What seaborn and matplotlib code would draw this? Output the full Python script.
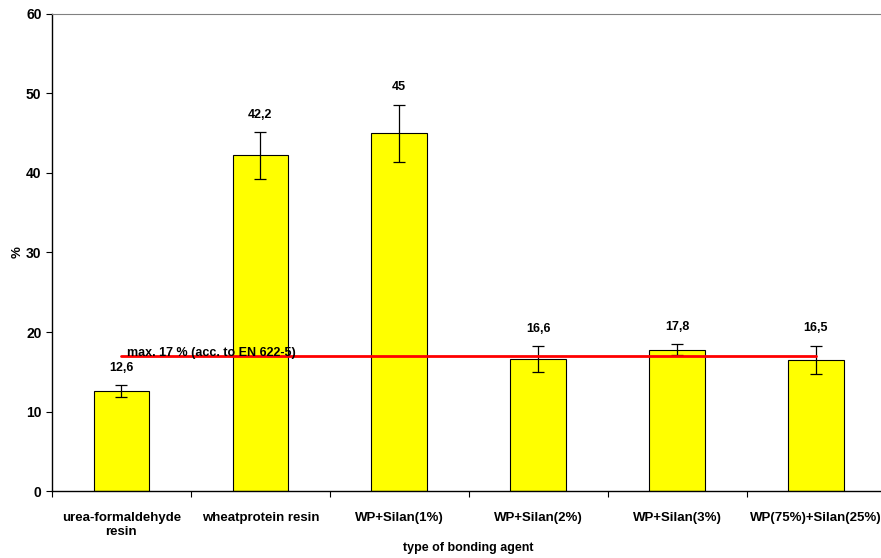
import pandas as pd
import seaborn as sns
import matplotlib.pyplot as plt
from matplotlib.ticker import FixedLocator

categories = ['urea-formaldehyde\nresin', 'wheatprotein resin', 'WP+Silan(1%)',
              'WP+Silan(2%)', 'WP+Silan(3%)', 'WP(75%)+Silan(25%)']
values = [12.6, 42.2, 45.0, 16.6, 17.8, 16.5]
errors = [0.75, 2.9, 3.6, 1.6, 0.65, 1.8]
value_labels = ['12,6', '42,2', '45', '16,6', '17,8', '16,5']
limit_value = 17
limit_text = 'max. 17 % (acc. to EN 622-5)'

sns.set_style('white')
plt.rcParams['font.family'] = ['Liberation Sans', 'DejaVu Sans']
plt.rcParams['font.weight'] = 'bold'
plt.rcParams['text.color'] = 'black'
plt.rcParams['axes.labelcolor'] = 'black'
plt.rcParams['xtick.color'] = 'black'
plt.rcParams['ytick.color'] = 'black'

df = pd.DataFrame({'agent': categories, 'value': values, 'err': errors})

fig = plt.figure(figsize=(8.81, 5.58), dpi=100)
ax = fig.add_axes([0.059, 0.12, 0.946, 0.855])

sns.barplot(data=df, x='agent', y='value', color='#FFFF00', width=0.4,
            edgecolor='black', linewidth=0.8, saturation=1, ax=ax)
ax.errorbar(range(len(values)), values, yerr=errors, fmt='none',
            ecolor='black', elinewidth=0.9, capsize=4, capthick=0.9)

for i, (v, e, lab) in enumerate(zip(values, errors, value_labels)):
    ax.annotate(lab, (i, v + e), xytext=(0, 12.5), textcoords='offset points',
                ha='center', va='center', fontsize=9, fontweight='bold')

# limit line
ax.plot([0, len(values) - 1], [limit_value, limit_value], color='red', lw=2)
ax.annotate(limit_text, (0, limit_value), xytext=(4, 0), textcoords='offset points',
            ha='left', va='baseline', fontsize=9, fontweight='bold')

ax.set_xlim(-0.5, len(values) - 0.5)
ax.set_ylim(0, 60)
ax.set_yticks(range(0, 61, 10))
ax.tick_params(axis='y', length=4, direction='out', left=True, labelsize=10, width=0.8)
ax.tick_params(axis='x', length=0, labelsize=9.5, pad=15)
ax.xaxis.set_minor_locator(FixedLocator([i - 0.5 for i in range(len(values) + 1)]))
ax.tick_params(axis='x', which='minor', length=4, bottom=True, width=0.8)
for lab in ax.get_xticklabels() + ax.get_yticklabels():
    lab.set_fontweight('bold')

ax.set_xlabel('type of bonding agent', fontsize=9, fontweight='bold', labelpad=3)
ax.set_ylabel('%', fontsize=9.5, fontweight='bold', labelpad=2)

for side in ['left', 'bottom']:
    ax.spines[side].set_color('black')
    ax.spines[side].set_linewidth(1)
for side in ['top', 'right']:
    ax.spines[side].set_color('#808080')
    ax.spines[side].set_linewidth(0.8)

fig.savefig('out.png', dpi=100)
